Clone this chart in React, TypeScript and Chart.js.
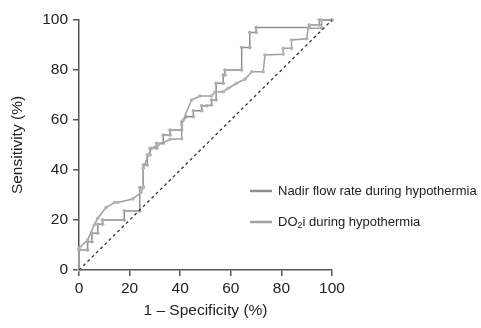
import React, { useEffect, useRef } from "react";
import { Chart, registerables } from "chart.js";

Chart.register(...registerables);

// 1 – Specificity (%) and Sensitivity (%)
const nadirFpr = [0, 0, 3.4, 3.4, 5.1, 5.1, 7.4, 7.4, 9.3, 9.3, 17.9, 17.9, 24, 24, 25.4, 25.4, 27, 27, 28.1, 28.1, 30.7, 30.7, 33.3, 33.3, 36, 36, 40.6, 40.6, 42.5, 45.2, 45.2, 48.5, 48.5, 50.5, 52.4, 52.4, 54.2, 54.2, 57, 57, 57.7, 57.7, 64.3, 64.3, 67.5, 67.5, 70, 70, 91, 91, 95, 95, 100];
const nadirTpr = [0, 8, 8, 11.3, 11.3, 14.7, 14.7, 18.3, 18.3, 20, 20, 23.6, 23.6, 33, 33, 42, 42, 46, 46, 48.7, 48.7, 50.7, 50.7, 54, 54, 56, 56, 59.3, 61.3, 61.3, 63.7, 63.7, 65.7, 65.7, 66, 68, 68, 74.7, 74.7, 78, 78, 80, 80, 89, 89, 95, 95, 97, 97, 98, 98, 100, 100];

const do2iFpr = [0, 0, 3.4, 6, 7.4, 10.7, 14, 15.3, 21.2, 24.5, 25.4, 25.4, 27.4, 28.7, 31.3, 36, 40.6, 40.6, 41.2, 44.5, 47.8, 52.4, 53.8, 57, 59, 62.3, 65.6, 68.3, 72.8, 73.5, 80.7, 80.7, 84, 84, 90, 90.6, 95.9, 95.9, 100];
const do2iTpr = [0, 8.7, 12, 18, 20.7, 25, 27, 27, 28.4, 31, 33.3, 40.7, 46, 48.7, 50, 52.3, 52.5, 58, 60, 68, 69.6, 69.6, 71.3, 71.3, 72.7, 74.7, 76.3, 79.3, 79.3, 86, 86.3, 88.7, 88.7, 92, 92.5, 96.7, 96.7, 100, 100];

const refX = [0, 100];
const refY = [0, 100];

const axisTicks = [0, 20, 40, 60, 80, 100];
const seriesLabels = ["Nadir flow rate during hypothermia", "DO₂i during hypothermia"];
const xTitle = "1 – Specificity (%)";
const yTitle = "Sensitivity (%)";

const FONT = "'Liberation Sans', Arial, Helvetica, sans-serif";
const nadirColor = "#8e8e8e";
const do2iColor = "#a0a0a0";

const toPts = (xs: number[], ys: number[]) => xs.map((x, i) => ({ x, y: ys[i] }));

const legendPlugin = {
  id: "customLegend",
  afterDraw(chart: any) {
    const ctx = chart.ctx as CanvasRenderingContext2D;
    const items = chart.data.datasets
      .filter((d: any) => d.legendOrder !== undefined)
      .sort((a: any, b: any) => a.legendOrder - b.legendOrder);
    const x0 = 250;
    const lineLen = 22;
    const textX = 278;
    const ys = [191, 222];
    ctx.save();
    items.forEach((d: any, i: number) => {
      const y = ys[i];
      ctx.strokeStyle = d.borderColor;
      ctx.lineWidth = 2.5;
      ctx.setLineDash([]);
      ctx.beginPath();
      ctx.moveTo(x0, y);
      ctx.lineTo(x0 + lineLen, y);
      ctx.stroke();
      ctx.fillStyle = "#222222";
      ctx.textBaseline = "middle";
      ctx.textAlign = "left";
      const label: string = d.label;
      const parts = label.split("₂");
      let cx = textX;
      parts.forEach((p, j) => {
        ctx.font = `13px ${FONT}`;
        ctx.fillText(p, cx, y);
        cx += ctx.measureText(p).width;
        if (j < parts.length - 1) {
          ctx.font = `9px ${FONT}`;
          ctx.fillText("2", cx, y + 4);
          cx += ctx.measureText("2").width;
        }
      });
    });
    ctx.restore();
  },
};

export default function App() {
  const ref = useRef<HTMLCanvasElement | null>(null);

  useEffect(() => {
    document.body.style.margin = "0";
    if (!ref.current) return;
    const axisColor = "#555555";
    const tickFont = { family: FONT, size: 15.5 };
    const chart = new Chart(ref.current, {
      type: "scatter",
      data: {
        datasets: [
          {
            label: "reference",
            data: toPts(refX, refY),
            showLine: true,
            borderColor: "#333333",
            borderWidth: 1.3,
            borderDash: [3, 3],
            pointRadius: 0,
            clip: false,
          } as any,
          {
            label: seriesLabels[1],
            legendOrder: 1,
            data: toPts(do2iFpr, do2iTpr),
            showLine: true,
            borderColor: do2iColor,
            borderWidth: 1.5,
            pointRadius: 1.8,
            pointBackgroundColor: "#b4b4b4",
            pointBorderColor: "#b4b4b4",
            pointBorderWidth: 0,
            clip: false,
          } as any,
          {
            label: seriesLabels[0],
            legendOrder: 0,
            data: toPts(nadirFpr, nadirTpr),
            showLine: true,
            borderColor: nadirColor,
            borderWidth: 1.5,
            pointRadius: 1.8,
            pointBackgroundColor: "#acacac",
            pointBorderColor: "#acacac",
            pointBorderWidth: 0,
            clip: false,
          } as any,
        ],
      },
      options: {
        animation: false,
        responsive: false,
        maintainAspectRatio: false,
        layout: { padding: { top: 20, right: 149, bottom: 0, left: 0 } },
        plugins: {
          legend: { display: false },
          tooltip: { enabled: false },
        },
        scales: {
          x: {
            type: "linear",
            min: 0,
            max: 100,
            afterFit: (s: any) => {
              s.height = 58;
            },
            afterBuildTicks: (s: any) => {
              s.ticks = axisTicks.map((v) => ({ value: v }));
            },
            ticks: { font: tickFont, color: "#222222", padding: 3, maxRotation: 0 },
            grid: { drawOnChartArea: false, drawTicks: true, tickLength: 6, color: axisColor, lineWidth: 1.5 },
            border: { color: axisColor, width: 1.5 },
            title: {
              display: true,
              text: xTitle,
              font: { family: FONT, size: 15.5 },
              color: "#222222",
              padding: { top: 0, bottom: 8 },
            },
          },
          y: {
            type: "linear",
            min: 0,
            max: 100,
            afterFit: (s: any) => {
              s.width = 79;
            },
            afterBuildTicks: (s: any) => {
              s.ticks = axisTicks.map((v) => ({ value: v }));
            },
            ticks: { font: tickFont, color: "#222222", padding: 5 },
            grid: { drawOnChartArea: false, drawTicks: true, tickLength: 6, color: axisColor, lineWidth: 1.5 },
            border: { color: axisColor, width: 1.5 },
            title: {
              display: true,
              text: yTitle,
              font: { family: FONT, size: 15.5 },
              color: "#222222",
              padding: { top: 8, bottom: 0 },
            },
          },
        },
      },
      plugins: [legendPlugin],
    } as any);
    return () => chart.destroy();
  }, []);

  return (
    <div style={{ width: 481, height: 328 }}>
      <canvas ref={ref} width={481} height={328} style={{ display: "block", width: 481, height: 328 }} />
    </div>
  );
}
